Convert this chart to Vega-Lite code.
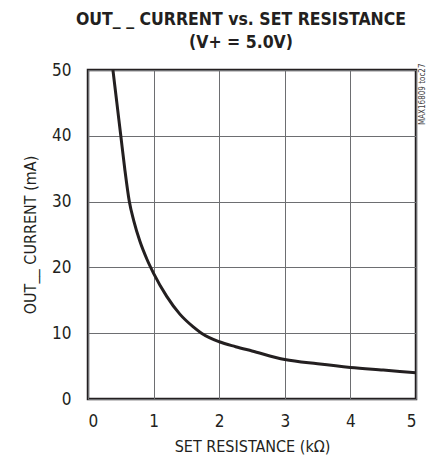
{
  "$schema": "https://vega.github.io/schema/vega-lite/v6.json",
  "autosize": "none",
  "padding": {"left": 88, "top": 70, "right": 11, "bottom": 59},
  "width": 328,
  "height": 329,
  "background": "white",
  "config": {
    "view": {"stroke": "#231f20", "strokeWidth": 2.5},
    "font": "DejaVu Sans Condensed"
  },
  "title": {
    "text": ["OUT_ _ CURRENT vs. SET RESISTANCE", "(V+ = 5.0V)"],
    "font": "DejaVu Sans Condensed",
    "fontSize": 17.5,
    "fontWeight": "bold",
    "color": "#231f20",
    "anchor": "middle",
    "dx": -11,
    "offset": 10,
    "lineHeight": 23
  },
  "data": {
    "values": [
      {"r": 0.38, "i": 50},
      {"r": 0.44, "i": 45},
      {"r": 0.5, "i": 40},
      {"r": 0.56, "i": 35},
      {"r": 0.63, "i": 30},
      {"r": 0.7, "i": 27},
      {"r": 0.79, "i": 24},
      {"r": 0.9, "i": 21.2},
      {"r": 1.0, "i": 19.1},
      {"r": 1.2, "i": 15.6},
      {"r": 1.4, "i": 12.9},
      {"r": 1.6, "i": 11},
      {"r": 1.73, "i": 10},
      {"r": 2.0, "i": 8.7},
      {"r": 2.25, "i": 7.95},
      {"r": 2.5, "i": 7.3},
      {"r": 3.0, "i": 6.0},
      {"r": 3.5, "i": 5.35},
      {"r": 4.0, "i": 4.8},
      {"r": 4.5, "i": 4.4},
      {"r": 5.0, "i": 4.0}
    ]
  },
  "encoding": {
    "x": {
      "field": "r",
      "type": "quantitative",
      "scale": {"domain": [0, 5], "nice": false},
      "axis": {
        "title": "SET RESISTANCE (kΩ)",
        "values": [0, 1, 2, 3, 4, 5],
        "format": "d",
        "domain": false,
        "ticks": false,
        "grid": true,
        "gridColor": "#6d6e71",
        "gridWidth": 1,
        "labelFont": "DejaVu Sans Condensed",
        "labelFontSize": 17,
        "labelColor": "#231f20",
        "labelPadding": 14,
        "titleFont": "DejaVu Sans Condensed",
        "titleFontSize": 16,
        "titleFontWeight": "normal",
        "titleColor": "#231f20",
        "titlePadding": 9
      }
    }
  },
  "layer": [
    {
      "mark": {"type": "line", "color": "#231f20", "strokeWidth": 3, "interpolate": "monotone", "clip": true},
      "encoding": {
        "y": {
          "field": "i",
          "type": "quantitative",
          "scale": {"domain": [0, 50], "nice": false},
          "axis": {
            "title": "OUT__ CURRENT (mA)",
            "values": [0, 10, 20, 30, 40, 50],
            "domain": false,
            "ticks": false,
            "grid": true,
            "gridColor": "#6d6e71",
            "gridWidth": 1,
            "labelFont": "DejaVu Sans Condensed",
            "labelFontSize": 17,
            "labelColor": "#231f20",
            "labelPadding": 17,
            "titleFont": "DejaVu Sans Condensed",
            "titleFontSize": 16,
            "titleFontWeight": "normal",
            "titleColor": "#231f20",
            "titlePadding": 13
          }
        }
      }
    },
    {
      "mark": {"type": "line", "opacity": 0},
      "encoding": {
        "y": {
          "field": "i",
          "type": "quantitative",
          "scale": {"domain": [0, 50], "nice": false},
          "axis": {
            "orient": "right",
            "title": "MAX16809 toc27",
            "labels": false,
            "ticks": false,
            "domain": false,
            "grid": false,
            "titleFont": "DejaVu Sans Condensed",
            "titleFontSize": 8,
            "titleFontWeight": "normal",
            "titleColor": "#414042",
            "titleAngle": 270,
            "titleAlign": "right",
            "titleBaseline": "middle",
            "titleX": 6,
            "titleY": -7
          }
        }
      }
    }
  ],
  "resolve": {"axis": {"y": "independent"}}
}
